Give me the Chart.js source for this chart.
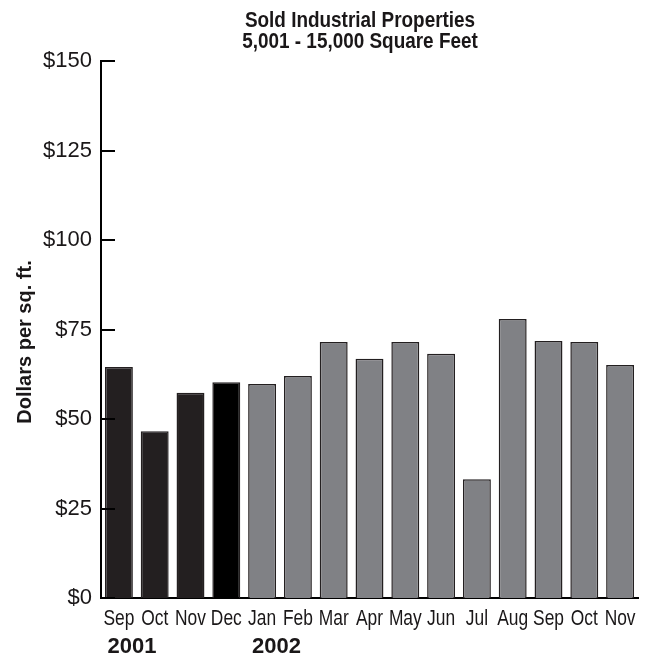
<!DOCTYPE html>
<html>
<head>
<meta charset="utf-8">
<script src="https://cdn.jsdelivr.net/npm/chart.js@4.4.1/dist/chart.umd.min.js"></script>
<style>
  html, body { margin: 0; padding: 0; background: #fff; }
  #wrap { width: 652px; height: 658px; }
</style>
</head>
<body>
<div id="wrap"><canvas id="priceChart" width="652" height="658"></canvas></div>
<script>
// data
const months = ['Sep', 'Oct', 'Nov', 'Dec', 'Jan', 'Feb', 'Mar', 'Apr', 'May', 'Jun', 'Jul', 'Aug', 'Sep', 'Oct', 'Nov'];
const pricePerSqFt = [64.5, 46.6, 57.3, 60.3, 59.8, 62.0, 71.5, 66.8, 71.5, 68.2, 33.2, 77.9, 71.8, 71.5, 65.1];
const yearLabels = ['2001', '2002'];
const yearStartIndex = [0, 4];
const yMin = 0, yMax = 150, yStep = 25;
const titleLines = ['Sold Industrial Properties', '5,001 - 15,000 Square Feet'];
const yTitle = 'Dollars per sq. ft.';

const FONT = "'Liberation Sans', Arial, Helvetica, sans-serif";
const TEXT = '#1a1718';
const DARK = '#231f20';
const GRAY = '#808185';

// first four months dark (Dec solid black), rest gray
const barColors = months.map((m, i) => i < 3 ? DARK : (i === 3 ? '#000000' : GRAY));

// condensed-looking text: squeeze horizontally
function squeezed(ctx, text, x, y, sx) {
    ctx.save();
    ctx.translate(x, y);
    ctx.scale(sx, 1);
    ctx.fillText(text, 0, 0);
    ctx.restore();
}

// inward ticks, titles, month + year labels
const extras = {
    id: 'extras',
    afterDraw(chart) {
        const ctx = chart.ctx;
        const area = chart.chartArea;
        const y = chart.scales.y;
        const x = chart.scales.x;
        ctx.save();

        // tick marks on the y axis point into the plot
        ctx.strokeStyle = '#000';
        ctx.lineWidth = 2;
        y.ticks.forEach(t => {
            const py = Math.round(y.getPixelForValue(t.value));
            ctx.beginPath();
            ctx.moveTo(area.left, py);
            ctx.lineTo(area.left + 14, py);
            ctx.stroke();
        });

        ctx.fillStyle = TEXT;
        ctx.textBaseline = 'alphabetic';

        // chart title
        ctx.textAlign = 'center';
        ctx.font = 'bold 22px ' + FONT;
        squeezed(ctx, titleLines[0], 360, 27, 0.86);
        squeezed(ctx, titleLines[1], 360, 48, 0.86);

        // y axis title
        ctx.save();
        ctx.translate(31, 342);
        ctx.rotate(-Math.PI / 2);
        ctx.font = 'bold 20px ' + FONT;
        ctx.textAlign = 'center';
        ctx.fillText(yTitle, 0, 0);
        ctx.restore();

        // month labels under each bar
        const monthFont = '22px ' + FONT;
        const sxMonth = 0.79;
        ctx.font = monthFont;
        chart.data.labels.forEach((lbl, i) => {
            squeezed(ctx, lbl, x.getPixelForValue(i), 625, sxMonth);
        });

        // year labels, starting where their first month label starts
        yearLabels.forEach((lbl, k) => {
            const idx = yearStartIndex[k];
            ctx.font = monthFont;
            const w = ctx.measureText(months[idx]).width * sxMonth;
            const left = x.getPixelForValue(idx) - w / 2 + 4;
            ctx.font = 'bold 22px ' + FONT;
            ctx.textAlign = 'left';
            ctx.fillText(lbl, left, 653);
            ctx.textAlign = 'center';
        });
        ctx.restore();
    }
};

const ctx = document.getElementById('priceChart').getContext('2d');
const priceChart = new Chart(ctx, {
    type: 'bar',
    data: {
        labels: months,
        datasets: [{
            data: pricePerSqFt,
            backgroundColor: barColors,
            borderColor: DARK,
            borderWidth: 1.5,
            barPercentage: 0.78,
            categoryPercentage: 1.0
        }]
    },
    options: {
        responsive: false,
        animation: false,
        layout: { padding: { top: 61, right: 14, left: 0, bottom: 0 } },
        plugins: {
            legend: { display: false },
            title: { display: false },
            tooltip: { enabled: false }
        },
        scales: {
            x: {
                grid: { display: false },
                border: { display: true, color: '#000', width: 2 },
                ticks: { display: false },
                afterFit: s => { s.height = 60; }
            },
            y: {
                min: yMin,
                max: yMax,
                grid: { display: false, drawTicks: false },
                border: { display: true, color: '#000', width: 2 },
                ticks: {
                    stepSize: yStep,
                    color: TEXT,
                    font: { family: FONT, size: 22 },
                    padding: 9,
                    callback: v => '$' + v
                },
                afterFit: s => { s.width = 101; }
            }
        }
    },
    plugins: [extras]
});
</script>
</body>
</html>
